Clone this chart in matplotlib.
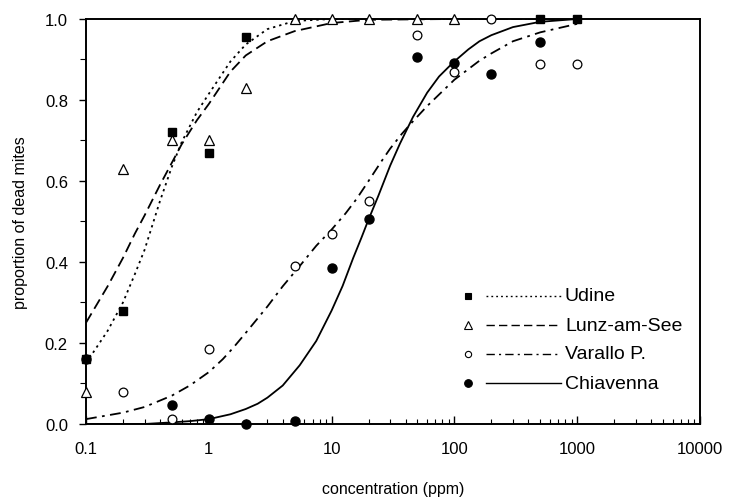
import matplotlib
matplotlib.use("Agg")
import matplotlib.pyplot as plt
from matplotlib.ticker import FixedLocator, FixedFormatter, LogLocator, NullFormatter

plt.rcParams['font.family'] = ['Liberation Sans', 'DejaVu Sans']

# observed points (proportion of dead mites)
udine_x = [0.1, 0.2, 0.5, 1, 2, 500, 1000]
udine_y = [0.16, 0.28, 0.72, 0.67, 0.955, 1.0, 1.0]

lunz_x = [0.1, 0.2, 0.5, 1, 2, 5, 10, 20, 50, 100]
lunz_y = [0.08, 0.63, 0.70, 0.70, 0.83, 1.0, 1.0, 1.0, 1.0, 1.0]

varallo_x = [0.2, 0.5, 1, 5, 10, 20, 50, 100, 200, 500, 1000]
varallo_y = [0.08, 0.012, 0.185, 0.39, 0.47, 0.55, 0.96, 0.87, 1.0, 0.89, 0.89]

chiav_x = [0.1, 0.5, 1, 2, 5, 10, 20, 50, 100, 200, 500]
chiav_y = [0.16, 0.047, 0.012, 0.0, 0.008, 0.385, 0.505, 0.906, 0.892, 0.864, 0.943]

# fitted curves
udine_fit_x = [0.1, 0.15, 0.2, 0.25, 0.3, 0.4, 0.5, 0.6, 0.8, 1, 1.5, 2, 3, 5, 10, 100, 1000]
udine_fit_y = [0.15, 0.23, 0.30, 0.37, 0.43, 0.55, 0.635, 0.695, 0.77, 0.815, 0.895, 0.937, 0.975, 0.995, 1.0, 1.0, 1.0]

lunz_fit_x = [0.1, 0.15, 0.2, 0.25, 0.3, 0.4, 0.5, 0.6, 0.8, 1, 1.5, 2, 3, 5, 10, 20, 100, 1000]
lunz_fit_y = [0.25, 0.34, 0.41, 0.47, 0.515, 0.59, 0.645, 0.69, 0.75, 0.79, 0.87, 0.91, 0.945, 0.97, 0.99, 0.998, 1.0, 1.0]

varallo_fit_x = [0.1, 0.2, 0.3, 0.5, 0.7, 1, 1.3, 1.6, 2, 3, 4, 5.5, 7.5, 10, 13, 16, 20, 25, 30, 37, 44, 60, 100, 160, 200, 300, 500, 1000]
varallo_fit_y = [0.012, 0.028, 0.042, 0.07, 0.095, 0.128, 0.16, 0.19, 0.225, 0.29, 0.34, 0.39, 0.44, 0.48, 0.52, 0.556, 0.60, 0.645, 0.68, 0.715, 0.741, 0.785, 0.85, 0.897, 0.915, 0.945, 0.967, 0.988]

chiav_fit_x = [0.1, 0.3, 0.5, 0.7, 1, 1.5, 2, 2.5, 3, 4, 5.5, 7.5, 10, 12.3, 15, 17.5, 20, 24, 30, 36, 46, 60, 75, 98, 130, 160, 200, 300, 500, 1000]
chiav_fit_y = [0.0, 0.0, 0.004, 0.007, 0.012, 0.024, 0.037, 0.05, 0.065, 0.095, 0.145, 0.205, 0.28, 0.341, 0.41, 0.46, 0.505, 0.563, 0.638, 0.692, 0.758, 0.818, 0.858, 0.893, 0.925, 0.945, 0.96, 0.98, 0.993, 1.0]

names = ['Udine', 'Lunz-am-See', 'Varallo P.', 'Chiavenna']

dotted = (0, (1.3, 2.2))
dashed = (0, (6, 3))
dashdot = (0, (6, 3, 1.5, 3))

fig = plt.figure(figsize=(7.3, 5.02), dpi=100)
ax = fig.add_axes([0.1178, 0.1534, 0.8411, 0.8068])

lw = 1.3
ax.plot(udine_fit_x, udine_fit_y, color='black', lw=lw, ls=dotted)
ax.plot(lunz_fit_x, lunz_fit_y, color='black', lw=lw, ls=dashed)
ax.plot(varallo_fit_x, varallo_fit_y, color='black', lw=lw, ls=dashdot)
ax.plot(chiav_fit_x, chiav_fit_y, color='black', lw=lw, ls='-')

ax.plot(chiav_x, chiav_y, 'o', ms=6.5, mfc='black', mec='black', clip_on=False, zorder=5)
ax.plot(udine_x, udine_y, 's', ms=6.3, mfc='black', mec='black', clip_on=False, zorder=5)
ax.plot(varallo_x, varallo_y, 'o', ms=6.3, mfc='white', mec='black', mew=0.9, clip_on=False, zorder=6)
ax.plot(lunz_x, lunz_y, '^', ms=7, mfc='white', mec='black', mew=0.9, clip_on=False, zorder=6)

ax.set_xscale('log')
ax.set_xlim(0.1, 10000)
ax.set_ylim(0, 1.0)

ax.xaxis.set_major_locator(FixedLocator([0.1, 1, 10, 100, 1000, 10000]))
ax.xaxis.set_major_formatter(FixedFormatter(['0.1', '1', '10', '100', '1000', '10000']))
ax.xaxis.set_minor_locator(LogLocator(base=10, subs=range(2, 10)))
ax.xaxis.set_minor_formatter(NullFormatter())
ax.set_yticks([0.0, 0.2, 0.4, 0.6, 0.8, 1.0])
ax.set_yticklabels(['0.0', '0.2', '0.4', '0.6', '0.8', '1.0'])
ax.set_yticks([0.1, 0.3, 0.5, 0.7, 0.9], minor=True)

ax.tick_params(axis='x', which='major', direction='in', length=6, width=1, labelsize=12, pad=12)
ax.tick_params(axis='x', which='minor', direction='in', length=3.5, width=0.8)
ax.tick_params(axis='y', which='major', direction='out', length=5, width=1, labelsize=12, pad=8)
ax.tick_params(axis='y', which='minor', direction='out', length=4, width=0.8)

for s in ax.spines.values():
    s.set_linewidth(1.4)

ax.set_xlabel('concentration (ppm)', fontsize=11.5, labelpad=18)
ax.set_ylabel('proportion of dead mites', fontsize=11.5, labelpad=12)

# legend: marker, then line sample, then name
leg_y = [0.317, 0.244, 0.173, 0.100]
styles = [dict(marker='s', mfc='black', ms=5), dict(marker='^', mfc='white', ms=5.5),
          dict(marker='o', mfc='white', ms=4.5), dict(marker='o', mfc='black', ms=5.5)]
line_styles = [dotted, dashed, dashdot, '-']
for yy, st, ls, name in zip(leg_y, styles, line_styles, names):
    ax.plot([0.622], [yy], transform=ax.transAxes, color='black', mec='black', mew=0.8, ls='none', **st)
    ax.plot([0.651, 0.774], [yy, yy], transform=ax.transAxes, color='black', lw=1.0, ls=ls)
    ax.text(0.780, yy, name, transform=ax.transAxes, fontsize=14, va='center', ha='left')

plt.savefig('out.png', dpi=100)
